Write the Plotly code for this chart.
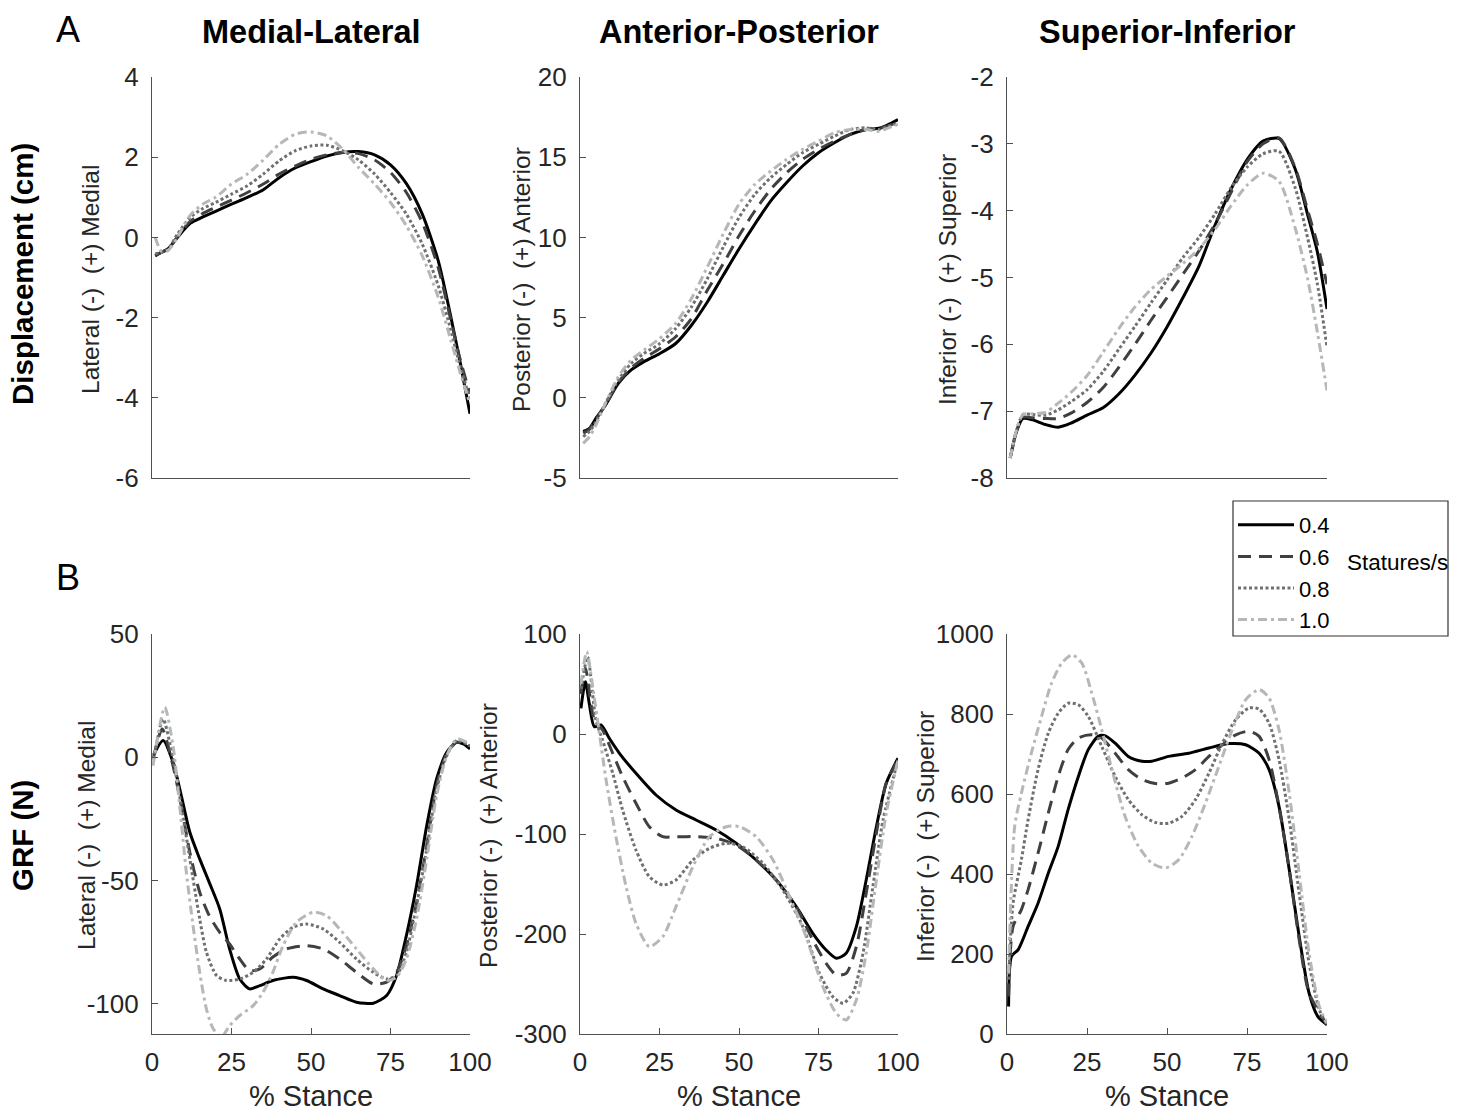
import plotly.graph_objects as go

W, H = 1464, 1116

speeds = ["0.4", "0.6", "0.8", "1.0"]
colors = ["#000000", "#404040", "#707070", "#b3b8b8"]
dashes = ["solid", "13px,8px", "3px,2.5px", "9px,4px,3px,4px"]

# ---------------- Displacement (cm) ----------------
disp_x = [1, 3, 5, 8, 12, 16, 20, 25, 30, 35, 40, 45, 50, 55, 60, 65, 70, 75, 80, 85, 90, 94, 97, 100]

ml_disp_04 = [-0.46, -0.37, -0.29, 0.0, 0.35, 0.51, 0.65, 0.83, 1.0, 1.19, 1.49, 1.73, 1.89, 2.03, 2.12, 2.14, 2.06, 1.81, 1.34, 0.58, -0.58, -1.99, -3.15, -4.4]
ml_disp_06 = [-0.45, -0.37, -0.30, 0.02, 0.40, 0.60, 0.75, 0.93, 1.12, 1.33, 1.58, 1.78, 1.95, 2.06, 2.12, 2.09, 1.93, 1.62, 1.12, 0.37, -0.75, -2.07, -3.07, -3.9]
ml_disp_08 = [-0.41, -0.37, -0.30, 0.08, 0.50, 0.72, 0.87, 1.08, 1.29, 1.58, 1.91, 2.16, 2.28, 2.30, 2.16, 1.93, 1.58, 1.12, 0.58, -0.17, -1.20, -2.32, -3.24, -4.02]
ml_disp_10 = [0.0, -0.35, -0.33, 0.0, 0.55, 0.83, 1.0, 1.33, 1.58, 1.93, 2.32, 2.57, 2.63, 2.53, 2.20, 1.74, 1.33, 0.87, 0.29, -0.46, -1.49, -2.57, -3.40, -4.15]

ap_disp_04 = [-2.1, -1.9, -1.28, -0.46, 0.89, 1.72, 2.24, 2.75, 3.37, 4.51, 5.96, 7.62, 9.28, 10.83, 12.28, 13.42, 14.45, 15.28, 15.9, 16.42, 16.73, 16.8, 17.04, 17.35]
ap_disp_06 = [-2.2, -1.95, -1.35, -0.45, 0.95, 1.85, 2.44, 3.06, 3.79, 4.93, 6.69, 8.34, 10.1, 11.66, 13.0, 14.04, 14.87, 15.49, 16.0, 16.42, 16.73, 16.8, 16.95, 17.2]
ap_disp_08 = [-2.42, -2.1, -1.49, -0.35, 1.1, 2.13, 2.75, 3.37, 4.3, 5.65, 7.41, 9.38, 11.24, 12.69, 13.73, 14.55, 15.28, 15.8, 16.31, 16.73, 16.83, 16.73, 16.93, 17.14]
ap_disp_10 = [-2.84, -2.42, -1.7, -0.35, 1.3, 2.34, 2.96, 3.69, 4.62, 6.17, 8.14, 10.2, 12.07, 13.31, 14.14, 14.87, 15.49, 16.0, 16.52, 16.73, 16.73, 16.62, 16.83, 17.04]

si_disp_04 = [-7.7, -7.3, -7.11, -7.13, -7.2, -7.24, -7.18, -7.06, -6.95, -6.74, -6.46, -6.13, -5.74, -5.3, -4.83, -4.22, -3.68, -3.24, -2.96, -2.92, -3.37, -4.07, -4.62, -5.47]
si_disp_06 = [-7.7, -7.3, -7.09, -7.1, -7.11, -7.11, -7.03, -6.87, -6.65, -6.34, -6.0, -5.64, -5.3, -4.95, -4.6, -4.2, -3.73, -3.27, -3.0, -2.91, -3.35, -4.0, -4.5, -5.1]
si_disp_08 = [-7.7, -7.28, -7.05, -7.05, -7.06, -6.98, -6.86, -6.68, -6.41, -6.07, -5.73, -5.38, -5.04, -4.7, -4.4, -4.05, -3.66, -3.35, -3.15, -3.11, -3.65, -4.42, -5.1, -6.04]
si_disp_10 = [-7.7, -7.28, -7.05, -7.04, -7.02, -6.88, -6.72, -6.47, -6.12, -5.76, -5.44, -5.18, -4.98, -4.79, -4.57, -4.28, -3.93, -3.62, -3.44, -3.56, -4.25, -5.03, -5.82, -6.69]

# ---------------- GRF (N) ----------------
ml_grf_x_04 = [0.5, 3.5, 6.6, 9.2, 11.9, 15, 18, 21.3, 24.4, 27.6, 30.7, 33.9, 38, 44.4, 48.6, 53.8, 59, 64.3, 69.6, 73.8, 76.9, 80, 83.2, 86.4, 89.5, 92.7, 95.8, 97.9, 100]
ml_grf_04 = [1, 6.8, -2, -15.5, -30.4, -41.2, -50.7, -61.5, -77.7, -89.9, -93.9, -92.6, -90.5, -89.2, -90.5, -93.9, -96.6, -99.3, -99.7, -96.6, -88.5, -72.3, -52, -27.7, -8.8, 2, 6.1, 5.4, 3.4]
ml_grf_x_06 = [0.5, 3.2, 6.6, 9.2, 11.9, 15, 18, 21.3, 24.4, 27.6, 30.7, 33.9, 38, 42.3, 48.6, 53.8, 59, 64.3, 69.6, 73.8, 76.9, 80, 83.2, 86.4, 89.5, 92.7, 95.8, 100]
ml_grf_06 = [0, 11.5, -3.4, -19.6, -38.5, -54.7, -64.2, -71, -75.7, -81.8, -86.5, -85.8, -81, -77.7, -76.4, -77.7, -81.8, -87.2, -91.9, -91.2, -87.2, -76.4, -58.8, -35.8, -11.5, 1.5, 6.1, 4.5]
ml_grf_x_08 = [0.5, 3.5, 6.6, 9.2, 11.9, 15, 17.1, 20.3, 23.4, 27.6, 31.8, 36, 40.2, 44.4, 48.6, 53.8, 59, 64.3, 69.6, 73.8, 76.9, 80, 83.2, 86.4, 89.5, 92.7, 95.8, 100]
ml_grf_08 = [-1, 15.5, -0.7, -19.6, -41.2, -65.5, -79, -88.5, -90.5, -89.9, -87.2, -81.8, -73.6, -68.9, -67.6, -69.6, -75, -81.8, -87.2, -89.9, -88.5, -79, -60.1, -37.2, -12.8, 0.7, 6.8, 4.7]
ml_grf_x_10 = [0.3, 4, 6.6, 8.7, 10.8, 12.9, 15, 17.1, 19.2, 21.8, 24.4, 27.6, 31.8, 34.9, 38, 41.2, 45.4, 50.7, 54.9, 59, 64.3, 69.6, 73.8, 76.9, 80, 83.2, 86.4, 89.5, 92.7, 95.8, 100]
ml_grf_10 = [-3.4, 20.3, 4.7, -19.6, -46.6, -68.2, -87.2, -102, -110, -113.5, -108.8, -104.7, -100.7, -95.3, -87.2, -76.4, -66.9, -62.8, -64.2, -69.6, -77.7, -85.8, -90.5, -89.2, -81.8, -65.5, -41.2, -15.5, 0.7, 7.4, 5.4]

ap_grf_x_04 = [0.3, 1.7, 2.9, 4.5, 6.6, 9.2, 12.4, 17.6, 23.9, 30.2, 36.5, 42.8, 49.1, 55.4, 61.7, 68, 73.2, 77.4, 80.6, 83.7, 86.9, 90, 93.2, 96.3, 100]
ap_grf_04 = [25.7, 52.3, 30.7, 7.3, 9, -4.3, -19.3, -39.3, -61, -76, -86, -96, -109.3, -126, -146, -172.7, -199.3, -216, -224.3, -219.3, -192.7, -146, -92.7, -49.3, -24.3]
ap_grf_x_06 = [0.3, 1.7, 4.5, 7.1, 10.3, 13.4, 17.6, 21.8, 26, 30.2, 36.5, 42.8, 49.1, 55.4, 61.7, 68, 73.2, 77.4, 80.6, 83.7, 86.9, 90, 93.2, 96.3, 100]
ap_grf_06 = [40, 65.7, 14, 4, -19.3, -42.7, -69.3, -92.7, -102.7, -102.7, -102.7, -104.3, -111, -126, -146, -172.7, -206, -229.3, -241, -239.3, -212.7, -159.3, -99.3, -49.3, -26]
ap_grf_x_08 = [0.3, 2.4, 5, 7.1, 10.3, 13.4, 17.6, 21.8, 26, 30.2, 35.5, 40.7, 46, 51.2, 57.5, 63.8, 70.1, 75.3, 79.5, 82.7, 85.8, 89, 92.1, 95.3, 100]
ap_grf_08 = [45, 77, 14, -6, -39.3, -76, -116, -142.7, -151, -146, -126, -114.3, -109.3, -112.7, -129.3, -156, -192.7, -239.3, -262.7, -269.3, -259.3, -219.3, -152.7, -86, -26]
ap_grf_x_10 = [0.3, 2.1, 4, 6.1, 8.2, 11.3, 14.5, 17.6, 21.8, 26, 30.2, 35.5, 40.7, 46, 50.2, 55.4, 60.7, 65.9, 71.1, 76.4, 80.6, 83.7, 86.9, 90, 93.2, 96.3, 100]
ap_grf_10 = [50, 82.3, 47, 0.7, -46, -102.7, -152.7, -189.3, -212.7, -202.7, -172.7, -132.7, -102.7, -92.7, -92.7, -102.7, -126, -162.7, -202.7, -253, -279.3, -286, -266, -219.3, -146, -79.3, -26]

si_grf_x_04 = [0.5, 1.4, 3.5, 6.6, 9.7, 12.9, 16, 19.1, 22.3, 25.4, 28.5, 30.6, 33.8, 37.9, 42.2, 45.3, 50.5, 56.8, 63.1, 69.4, 74.6, 78.8, 81.9, 85, 88.2, 91.3, 94.4, 97.1, 100]
si_grf_04 = [69, 194, 211, 269, 327, 402, 469, 561, 644, 711, 744, 746, 727, 694, 682, 682, 694, 702, 715, 726, 723, 702, 661, 569, 411, 244, 102, 44, 23]
si_grf_x_06 = [0.5, 1.9, 4.5, 6.6, 9.7, 12.9, 16, 19.1, 22.3, 26.5, 29.6, 33.8, 37.9, 42.2, 46.3, 50.5, 54.7, 58.9, 63.1, 67.3, 71.5, 75.6, 78.8, 81.9, 85, 88.2, 91.3, 94.4, 100]
si_grf_06 = [94, 269, 311, 361, 452, 552, 644, 711, 740, 748, 740, 702, 661, 636, 626, 627, 640, 661, 694, 723, 748, 757, 744, 686, 569, 411, 236, 102, 23]
si_grf_x_08 = [0.5, 1.9, 4.5, 6.6, 9.7, 12.9, 16, 19.1, 22.3, 25.4, 29.6, 33.8, 37.9, 42.2, 46.3, 50.5, 54.7, 58.9, 63.1, 67.3, 71.5, 75.6, 78.8, 81.9, 85, 88.2, 91.3, 94.4, 97.6, 100]
si_grf_08 = [136, 327, 436, 536, 661, 752, 802, 827, 823, 794, 719, 644, 586, 548, 529, 527, 544, 586, 652, 727, 786, 815, 812, 777, 686, 536, 352, 177, 61, 23]
si_grf_x_10 = [0.5, 2.4, 4.5, 7.6, 10.8, 13.9, 17.1, 20.3, 23.4, 26.5, 29.6, 32.8, 36.9, 41.1, 45.3, 49.5, 53.7, 57.8, 62, 66.2, 70.4, 74.6, 78.8, 81.9, 85, 88.2, 91.3, 94.4, 97.6, 100]
si_grf_10 = [152, 519, 602, 702, 794, 877, 927, 948, 927, 852, 761, 661, 544, 469, 427, 415, 436, 494, 577, 669, 761, 836, 861, 840, 761, 602, 402, 202, 69, 27]

# ticks
x_ticks = [0, 25, 50, 75, 100]
ml_disp_ticks = [-6, -4, -2, 0, 2, 4]
ap_disp_ticks = [-5, 0, 5, 10, 15, 20]
si_disp_ticks = [-8, -7, -6, -5, -4, -3, -2]
ml_grf_ticks = [-100, -50, 0, 50]
ap_grf_ticks = [-300, -200, -100, 0, 100]
si_grf_ticks = [0, 200, 400, 600, 800, 1000]

col_titles = ["Medial-Lateral", "Anterior-Posterior", "Superior-Inferior"]
y_titles = ["Lateral (-)  (+) Medial", "Posterior (-)  (+) Anterior", "Inferior (-)  (+) Superior"]

# ---------------- layout helpers (pixel geometry) ----------------
FONT = "Liberation Sans, Arial, Helvetica, sans-serif"
AXC = "#505050"
TXT = "#262626"

col_px = [(152, 470), (580, 898), (1007, 1327)]
row_px = [(77, 478), (634, 1034)]

def px_x(p):
    return p / W

def px_y(p):
    return 1 - p / H

panels = [
    (0, 0, [disp_x] * 4, [ml_disp_04, ml_disp_06, ml_disp_08, ml_disp_10], [-6, 4], ml_disp_ticks),
    (0, 1, [disp_x] * 4, [ap_disp_04, ap_disp_06, ap_disp_08, ap_disp_10], [-5, 20], ap_disp_ticks),
    (0, 2, [disp_x] * 4, [si_disp_04, si_disp_06, si_disp_08, si_disp_10], [-8, -2], si_disp_ticks),
    (1, 0, [ml_grf_x_04, ml_grf_x_06, ml_grf_x_08, ml_grf_x_10], [ml_grf_04, ml_grf_06, ml_grf_08, ml_grf_10], [-112.2, 50], ml_grf_ticks),
    (1, 1, [ap_grf_x_04, ap_grf_x_06, ap_grf_x_08, ap_grf_x_10], [ap_grf_04, ap_grf_06, ap_grf_08, ap_grf_10], [-300, 100], ap_grf_ticks),
    (1, 2, [si_grf_x_04, si_grf_x_06, si_grf_x_08, si_grf_x_10], [si_grf_04, si_grf_06, si_grf_08, si_grf_10], [0, 1000], si_grf_ticks),
]

fig = go.Figure()
layout = {}

for i, (r, c, xs, ys, yr, yt) in enumerate(panels, start=1):
    xa = "xaxis" if i == 1 else f"xaxis{i}"
    ya = "yaxis" if i == 1 else f"yaxis{i}"
    xref = "x" if i == 1 else f"x{i}"
    yref = "y" if i == 1 else f"y{i}"
    x0, x1 = col_px[c]
    y0, y1 = row_px[r]
    for k in range(4):
        fig.add_trace(go.Scatter(
            x=xs[k], y=ys[k], mode="lines",
            line=dict(color=colors[k], width=3, dash=dashes[k], shape="spline", smoothing=0.7),
            name=speeds[k], showlegend=(i == 1), legendgroup=speeds[k],
            xaxis=xref, yaxis=yref, hoverinfo="skip",
        ))
    bottom = (r == 1)
    layout[xa] = dict(
        domain=[px_x(x0), px_x(x1)], anchor=yref, range=[0, 100],
        showline=True, linecolor=AXC, linewidth=1.2, mirror=False,
        showgrid=False, zeroline=False, automargin=False,
        ticks="inside" if bottom else "", ticklen=6, tickcolor=AXC, tickwidth=1.2,
        tickmode="array", tickvals=x_ticks, ticktext=[str(v) for v in x_ticks],
        showticklabels=bottom, tickfont=dict(family=FONT, size=26, color=TXT),
        ticklabelstandoff=5,
    )
    layout[ya] = dict(
        domain=[px_y(y1), px_y(y0)], anchor=xref, range=yr,
        showline=True, linecolor=AXC, linewidth=1.2, mirror=False,
        showgrid=False, zeroline=False, automargin=False,
        ticks="inside", ticklen=6, tickcolor=AXC, tickwidth=1.2,
        tickmode="array", tickvals=yt, ticktext=[str(v) for v in yt],
        tickfont=dict(family=FONT, size=26, color=TXT),
        ticklabelstandoff=7,
    )

annotations = []

def ann(text, x, y, size, bold=False, angle=0, family=FONT, color="#000000"):
    annotations.append(dict(
        text=f"<b>{text}</b>" if bold else text,
        x=px_x(x), y=px_y(y), xref="paper", yref="paper",
        showarrow=False, textangle=angle, xanchor="center", yanchor="middle",
        font=dict(family=family, size=size, color=color),
    ))

# panel letters
ann("A", 68, 30, 36)
ann("B", 68, 578, 36)
# column titles
title_x = [311, 739, 1167]
for t, xx in zip(col_titles, title_x):
    ann(t, xx, 32, 32.5, bold=True)
# row labels
ann("Displacement (cm)", 22, 274, 29.5, bold=True, angle=-90)
ann("GRF (N)", 22, 836, 29.5, bold=True, angle=-90)
# y-axis titles
ytx_top = [91, 522, 948]
ytx_bot = [86, 488, 925]
for t, xa_, xb_ in zip(y_titles, ytx_top, ytx_bot):
    ann(t, xa_, 280, 24.5, angle=-90, color=TXT)
    ann(t, xb_, 836, 24.5, angle=-90, color=TXT)
# x-axis titles
for xx in title_x:
    ann("% Stance", xx, 1096, 29, color=TXT)
# legend side label
ann("Statures/s", 1397, 562, 22.5, color="#000000")

layout["annotations"] = annotations
layout["shapes"] = [dict(
    type="rect", xref="paper", yref="paper",
    x0=px_x(1233), x1=px_x(1448), y0=px_y(636), y1=px_y(501),
    line=dict(color="#333333", width=1.2), fillcolor="rgba(0,0,0,0)",
)]

layout["legend"] = dict(
    x=px_x(1233), y=px_y(504), xanchor="left", yanchor="top",
    bgcolor="rgba(0,0,0,0)", borderwidth=0,
    font=dict(family=FONT, size=22, color="#000000"),
    tracegroupgap=0, itemwidth=56,
)

fig.update_layout(
    width=W, height=H,
    margin=dict(l=0, r=0, t=0, b=0, pad=0),
    paper_bgcolor="white", plot_bgcolor="white",
    showlegend=True,
    **layout,
)

fig.write_html("out.html")
